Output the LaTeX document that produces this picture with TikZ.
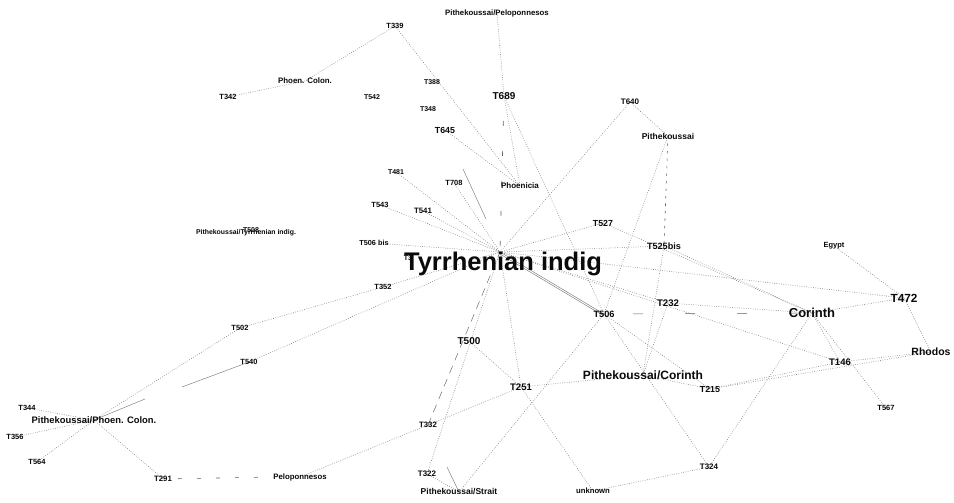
\documentclass[tikz,border=0pt]{standalone}
\usepackage{fontspec}
\setmainfont{Liberation Sans}
\usepackage{tikz}
\usetikzlibrary{backgrounds}
\definecolor{linkgray}{HTML}{7A7A7A}
\definecolor{labink}{HTML}{0A0A0A}

\tikzset{
  lab/.style={font=\bfseries\fontsize{#1}{#1}\selectfont, text=labink, inner sep=0pt},
  lab/.default=7.5,
  link/.style={draw=linkgray, line width=0.55pt, dash pattern=on 0.7pt off 1.6pt},
  solidlink/.style={draw=linkgray, line width=0.45pt},
  gaplink/.style={draw=linkgray!80!black, line width=0.6pt}
}

\begin{document}
\begin{tikzpicture}[x=1pt, y=-1pt]
      \useasboundingbox (0,0) rectangle (954,503);
      % top
      \node[lab] (t339) at (395,26) {T339};
      \node[lab=7.8] (pitpel) at (497,13) {Pithekoussai/Peloponnesos};
      \node[lab=7.9] (phcol) at (305,81) {Phoen. Colon.};
      \node[lab] (t342) at (228,97) {T342};
      \node[lab=7] (t542) at (372,97) {T542};
      \node[lab=7] (t388) at (432,82) {T388};
      \node[lab=7] (t348) at (428,109) {T348};
      \node[lab=8.8] (t645) at (445,130) {T645};
      \node[lab=10] (t689) at (504,96) {T689};
      \node[lab=8] (phoen) at (520,186) {Phoenicia};
      \node[lab=8] (t640) at (630,102) {T640};
      \node[lab=8.5] (pith) at (668,136) {Pithekoussai};
      % round the hub
      \node[lab=7] (t481) at (396,172) {T481};
      \node[lab] (t708) at (454,183) {T708};
      \node[lab] (t543) at (380,205) {T543};
      \node[lab=7.8] (t541) at (423,211) {T541};
      \node[lab=6.9] (pittyr) at (246,233) {Pithekoussai/Tyrrhenian indig.};
      \node[lab=7] (t508) at (251,230) {T508};
      \node[lab=7.3] (t506b) at (374,243) {T506 bis};
      \node[lab=7] (t3) at (408,258) {T3};
      \coordinate (ti) at (500,252);
      \node[lab=25.5] (tilab) at (503,264) {Tyrrhenian indig};
      \node[lab] (t352) at (383,287) {T352};
      \node[lab=8.8] (t527) at (603,223) {T527};
      \node[lab=9.1] (t525) at (664,246) {T525bis};
      % right
      \node[lab=7.5] (egypt) at (834,246) {Egypt};
      \node[lab=11.8] (t472) at (904,298) {T472};
      \node[lab=13] (cor) at (812,313) {Corinth};
      \node[lab=10.5] (rhod) at (931,352) {Rhodos};
      \node[lab=9.5] (t146) at (840,362) {T146};
      \node[lab=7.5] (t567) at (886,408) {T567};
      \node[lab=9.6] (t232) at (668,303) {T232};
      \node[lab=9.2] (t506) at (604,314) {T506};
      \node[lab=10] (t500) at (469,341) {T500};
      \node[lab=9.5] (t251) at (521,387) {T251};
      \node[lab=12] (pitcor) at (643,375) {Pithekoussai/Corinth};
      \node[lab=8.8] (t215) at (710,389) {T215};
      % left and bottom
      \node[lab] (t502) at (240,328) {T502};
      \node[lab] (t540) at (249,362) {T540};
      \node[lab=9.4] (pitphc) at (94,420) {Pithekoussai/Phoen. Colon.};
      \node[lab] (t344) at (27,408) {T344};
      \node[lab] (t356) at (15,437) {T356};
      \node[lab] (t564) at (37,462) {T564};
      \node[lab=7.8] (t291) at (163,479) {T291};
      \node[lab=7.8] (pelop) at (300,477) {Peloponnesos};
      \node[lab=7.8] (t332) at (428,425) {T332};
      \node[lab=8] (t322) at (427,474) {T322};
      \node[lab=8.5] (pitstr) at (459,492) {Pithekoussai/Strait};
      \node[lab=7.7] (unk) at (593,491) {unknown};
      \node[lab=8] (t324) at (709,467) {T324};

      \coordinate (s1a) at (463,169);
      \coordinate (s1b) at (486,219);
      \coordinate (s2) at (182,387);
      \coordinate (s3) at (145,399);
      \coordinate (s4) at (447,467);

      \begin{scope}[on background layer]
        \fill[white] (0,0) rectangle (954,503);
        \foreach \a/\b in {t339/phcol, phcol/t342, t339/phoen, t645/phoen, t689/phoen,
            pitpel/t689, t689/t506, t640/ti, t640/pith, pith/t506, t481/ti, t708/ti,
            t543/ti, t541/ti, t506b/ti, t352/ti, t502/t352, t540/ti, pitphc/t502,
            pitphc/t344, pitphc/t356, pitphc/t564, pitphc/t291, pelop/t332, t332/t251,
            t322/ti, t322/pitstr, pitstr/t506, t500/t251, t251/unk, t251/ti, t251/pitcor,
            unk/t324, t506/t324, cor/t324, t506/t215, pitcor/t215, t215/t146, t215/rhod,
            t146/rhod, t472/rhod, t472/egypt, cor/t472, cor/t146, cor/t567, t232/cor,
            ti/t232, ti/t146, ti/t472, ti/t525, ti/t527, t527/cor, t525/cor, t525/pitcor,
            t232/pitcor}
          \draw[link] (\a.center) -- (\b.center);
        \draw[solidlink] (ti) -- (t506.center);
        \draw[solidlink] ([yshift=-2pt]ti) -- ([yshift=-2pt]t506.center);
        \draw[solidlink] (s1a) -- (s1b);
        \draw[solidlink] (s2) -- (t540.center);
        \draw[solidlink] (pitphc.center) -- (s3);
        \draw[solidlink] (pitstr.center) -- (s4);
        % loose dashes
        \draw[gaplink, dash pattern=on 5pt off 25pt, dash phase=5pt] (t689.center) -- (ti);
        \draw[gaplink, dash pattern=on 10pt off 42pt, dash phase=23pt] (t506.center) -- (cor.center);
        \draw[gaplink, dash pattern=on 4pt off 15pt, dash phase=4pt] (t291.center) -- (pelop.west);
        \draw[gaplink, dash pattern=on 2.5pt off 5pt] (pith.center) -- (t525.center);
        \draw[gaplink, line width=0.45pt, dash pattern=on 8pt off 6pt] (t332.center) -- (ti);
      \end{scope}
    \end{tikzpicture}
\end{document}
